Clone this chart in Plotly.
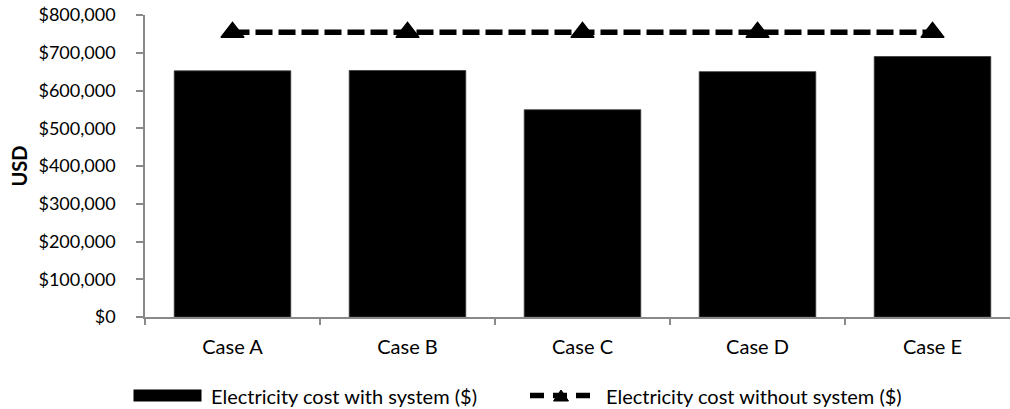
import plotly.graph_objects as go

# Chart data
cases = ["Case A", "Case B", "Case C", "Case D", "Case E"]
cost_with_system = [652000, 653000, 549000, 650000, 690000]
cost_without_system = [754000, 754000, 754000, 754000, 754000]
y_tick_values = [0, 100000, 200000, 300000, 400000, 500000, 600000, 700000, 800000]
y_tick_labels = ["$0", "$100,000", "$200,000", "$300,000", "$400,000",
                 "$500,000", "$600,000", "$700,000", "$800,000"]

label_with = "Electricity cost with system ($)"
label_without = "Electricity cost without system ($)"

FONT = "Lato"
FS = 20
W, H = 1010, 409
ML, MR, MT, MB = 145, 0, 15, 92
PW = W - ML - MR
PH = H - MT - MB
AXIS_GREY = "#898989"


def px_x(px):
    """Pixel x -> paper coordinate."""
    return (px - ML) / PW


def px_y(py):
    """Pixel y (from top) -> paper coordinate."""
    return (H - MB - py) / PH


fig = go.Figure()

fig.add_trace(go.Bar(
    x=cases,
    y=cost_with_system,
    name=label_with,
    marker=dict(color="#000000", line=dict(color="#3a3a3a", width=0.8)),
    showlegend=False,
))

fig.add_trace(go.Scatter(
    x=cases,
    y=cost_without_system,
    name=label_without,
    mode="lines+markers",
    line=dict(color="#000000", width=5.5, dash="17px,6px"),
    marker=dict(symbol="triangle-up", size=20, color="#000000",
                line=dict(color="#000000", width=1.5)),
    showlegend=False,
))

# Legend drawn as shapes and text below the axis
leg_y = 395.5
shapes = [
    dict(type="rect", xref="paper", yref="paper",
         x0=px_x(133.5), x1=px_x(201.5), y0=px_y(401.5), y1=px_y(389.5),
         fillcolor="#000000", line=dict(width=0)),
    dict(type="line", xref="paper", yref="paper",
         x0=px_x(530), x1=px_x(592), y0=px_y(leg_y), y1=px_y(leg_y),
         line=dict(color="#000000", width=5.5, dash="14px,9px")),
]
tri_cx, tri_w, tri_h = 561, 15, 11
tri_path = "M {x0},{y0} L {x1},{y0} L {xc},{y1} Z".format(
    x0=px_x(tri_cx - tri_w / 2), x1=px_x(tri_cx + tri_w / 2),
    xc=px_x(tri_cx), y0=px_y(leg_y + tri_h / 2), y1=px_y(leg_y - tri_h / 2))
shapes.append(dict(type="path", xref="paper", yref="paper", path=tri_path,
                   fillcolor="#000000", line=dict(color="#000000", width=1)))

annotations = [
    dict(text=label_with, xref="paper", yref="paper",
         x=px_x(209), y=px_y(leg_y), xanchor="left", yanchor="middle",
         showarrow=False, font=dict(family=FONT, size=FS, color="#000000")),
    dict(text=label_without, xref="paper", yref="paper",
         x=px_x(604), y=px_y(leg_y), xanchor="left", yanchor="middle",
         showarrow=False, font=dict(family=FONT, size=FS, color="#000000")),
    dict(text="<b>USD</b>", xref="paper", yref="paper",
         x=px_x(18.5), y=0.5, xanchor="center", yanchor="middle",
         textangle=-90, showarrow=False,
         font=dict(family=FONT, size=FS, color="#000000")),
]

fig.update_layout(
    width=W, height=H,
    margin=dict(l=ML, r=MR, t=MT, b=MB, pad=0),
    paper_bgcolor="#ffffff",
    plot_bgcolor="#ffffff",
    bargap=0.334,
    font=dict(family=FONT, size=FS, color="#000000"),
    shapes=shapes,
    annotations=annotations,
)

fig.update_xaxes(
    type="category",
    range=[-0.5, -0.5 + PW / 175.0],
    showline=True, linecolor=AXIS_GREY, linewidth=1.5,
    ticks="outside", ticklen=6, tickwidth=1.5, tickcolor=AXIS_GREY,
    tickson="boundaries",
    showgrid=False, zeroline=False,
    ticklabelstandoff=11,
    tickfont=dict(family=FONT, size=FS, color="#000000"),
)

fig.update_yaxes(
    range=[0, 800000],
    tickmode="array",
    tickvals=y_tick_values,
    ticktext=y_tick_labels,
    showline=True, linecolor=AXIS_GREY, linewidth=1.5,
    ticks="outside", ticklen=7, tickwidth=1.5, tickcolor=AXIS_GREY,
    showgrid=False, zeroline=False,
    ticklabelstandoff=17,
    tickfont=dict(family=FONT, size=18, color="#000000"),
)

fig.write_html("out.html")
